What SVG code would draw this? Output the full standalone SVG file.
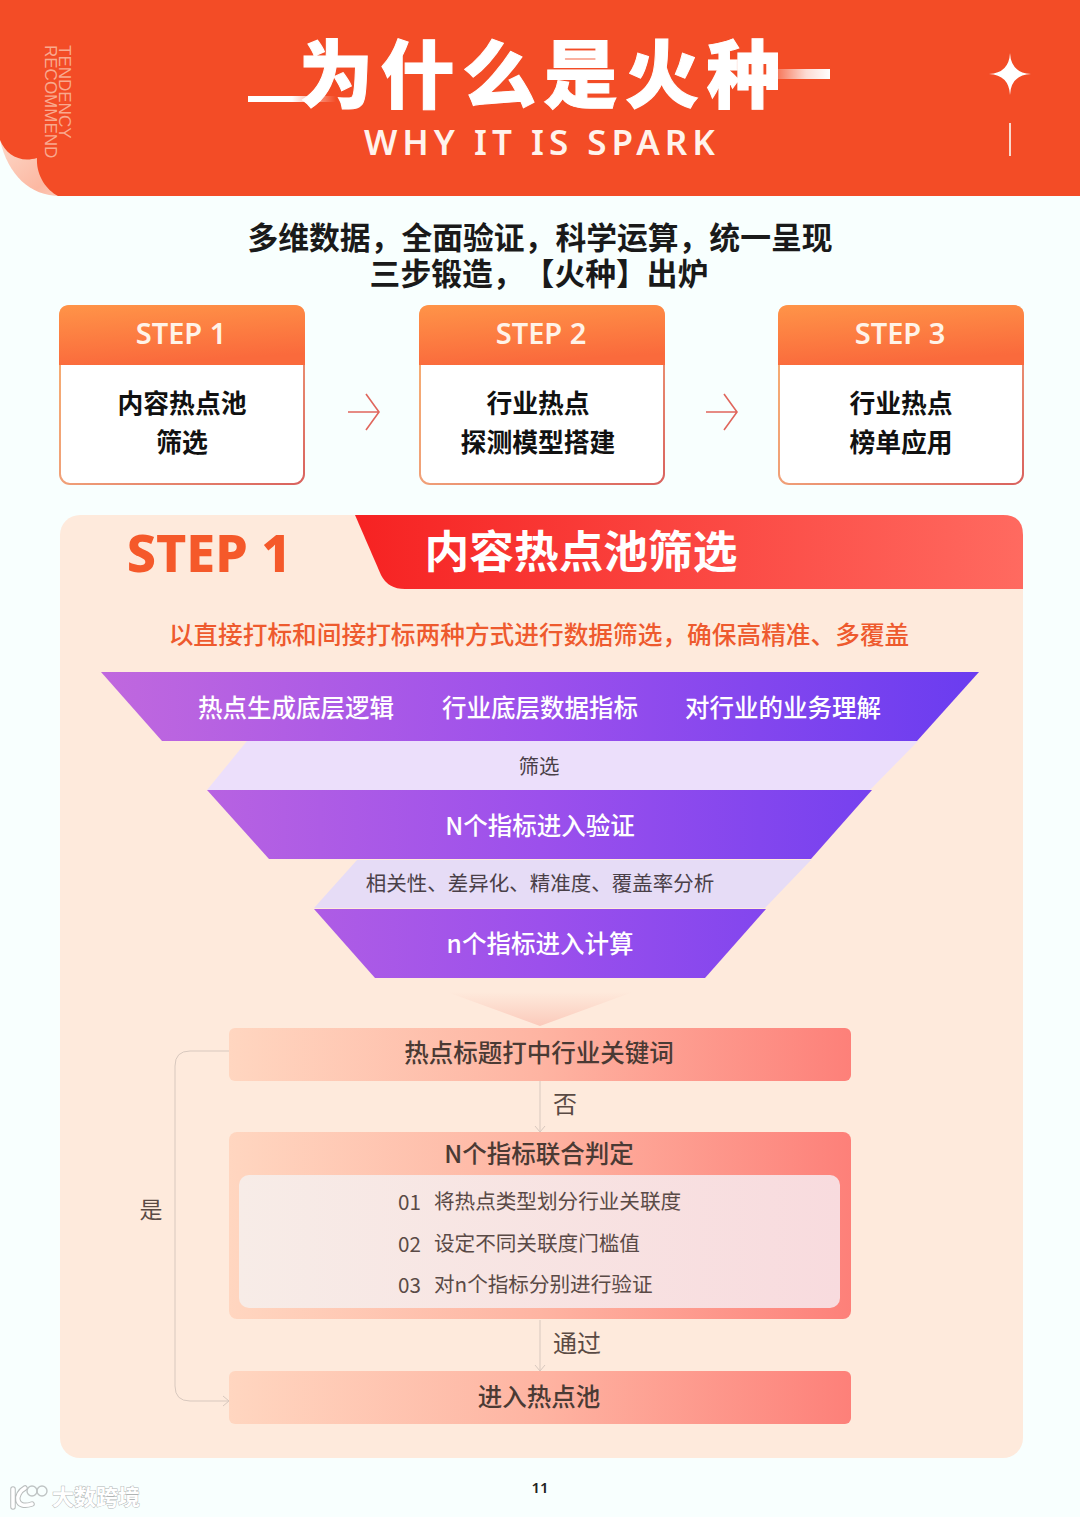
<svg xmlns="http://www.w3.org/2000/svg" width="1080" height="1517" viewBox="0 0 1080 1517">
<defs>
<linearGradient id="fold" x1="0" y1="0" x2="1" y2="1"><stop offset="0" stop-color="#fcd8c8"/><stop offset="0.7" stop-color="#fcb8a2"/><stop offset="1" stop-color="#fcd0c0"/></linearGradient>
<linearGradient id="lineL" x1="0" x2="1" y1="0" y2="0"><stop offset="0" stop-color="#fff"/><stop offset="0.5" stop-color="#fff"/><stop offset="1" stop-color="#fff" stop-opacity="0"/></linearGradient>
<linearGradient id="lineR" x1="0" x2="1" y1="0" y2="0"><stop offset="0" stop-color="#fff" stop-opacity="0.1"/><stop offset="0.6" stop-color="#fff" stop-opacity="0.8"/><stop offset="1" stop-color="#fff"/></linearGradient>
<linearGradient id="head" x1="0" x2="0.25" y1="0" y2="1"><stop offset="0" stop-color="#ff9448"/><stop offset="1" stop-color="#fa6a3c"/></linearGradient>
<linearGradient id="cardStroke" x1="0" x2="1" y1="0" y2="1"><stop offset="0" stop-color="#f8b070"/><stop offset="0.5" stop-color="#f0a078"/><stop offset="1" stop-color="#d9625e"/></linearGradient>
<linearGradient id="banner" x1="0" x2="1" y1="0" y2="0"><stop offset="0" stop-color="#f62222"/><stop offset="1" stop-color="#ff6a60"/></linearGradient>
<linearGradient id="purple" gradientUnits="userSpaceOnUse" x1="101" x2="979" y1="0" y2="0"><stop offset="0" stop-color="#c068de"/><stop offset="0.5" stop-color="#9c50ec"/><stop offset="1" stop-color="#6a3cf0"/></linearGradient>
<linearGradient id="peach" x1="0" x2="1" y1="0" y2="0"><stop offset="0" stop-color="#ffd6c0"/><stop offset="0.5" stop-color="#feb4a2"/><stop offset="1" stop-color="#fd8079"/></linearGradient>
<linearGradient id="inner" x1="0" x2="1" y1="0" y2="0"><stop offset="0" stop-color="#f7ece7"/><stop offset="1" stop-color="#f8dbde"/></linearGradient>
<linearGradient id="tri" x1="0" x2="0" y1="0" y2="1"><stop offset="0" stop-color="#feeadc"/><stop offset="1" stop-color="#fbcabb"/></linearGradient>
<marker id="ah" markerWidth="14" markerHeight="14" refX="10" refY="7" orient="auto" markerUnits="userSpaceOnUse"><path d="M4 2L10 7L4 12" fill="none" stroke="#d8c8be" stroke-width="1"/></marker>
</defs>
<style>
text{font-family:"Noto Sans CJK SC","Noto Sans",sans-serif;text-anchor:middle;text-spacing-trim:space-all}
.en{font-family:"Noto Sans","Noto Sans CJK SC",sans-serif}
.ar2{font-family:"Liberation Sans",sans-serif;text-anchor:start}
.b{font-weight:700}.m{font-weight:500}
.card{fill:#fff;stroke:url(#cardStroke);stroke-width:2}
.hd{fill:url(#head)}
.st{font-size:29px;fill:#fff3e8;font-weight:600}
.ct{font-size:25.8px;font-weight:700;fill:#111}
.w{fill:#fff;font-size:24.5px;font-weight:500}
.ln{fill:#4a4048;font-size:20.5px}
.bar{fill:url(#peach)}
.bt{font-size:24.5px;font-weight:500;fill:#4a3a34}
.it{font-size:20.6px;fill:#5a4a46;text-anchor:start}
.conn{fill:none;stroke:#d8c8be;stroke-width:1;marker-end:url(#ah)}
.ar{fill:none;stroke:#e0665c;stroke-width:1.6}
.lb{font-size:24px;fill:#5a4a44}
</style>
<rect width="1080" height="1517" fill="#f8fffe"/>
<g id="header">
<path d="M0 140C8 175 30 196 60 196L70 180L40 150Z" fill="url(#fold)"/>
<path d="M0 0H1080V196H58C46 190 36 175 37 158C20 163 6 155 0 140Z" fill="#f34c26"/>
<text class="ar2" transform="translate(59 45) rotate(90)" font-size="17" fill="#f9a98f">TENDENCY</text>
<text class="ar2" transform="translate(45 45) rotate(90)" font-size="17" fill="#f9a98f">RECOMMEND</text>
<rect x="248" y="96" width="88" height="6" fill="url(#lineL)"/>
<text x="543.5" y="102" class="b" font-size="74" fill="#fff" stroke="#fff" stroke-width="1" letter-spacing="7.5" style="font-weight:900">为什么是火种</text>
<rect x="770" y="69" width="60" height="10" fill="url(#lineR)"/>
<text x="542" y="155" class="en" font-size="35" font-weight="600" fill="#fff3ec" letter-spacing="5">WHY IT IS SPARK</text>
<path d="M1010 53Q1011 73 1031 74Q1011 75 1010 95Q1009 75 989 74Q1009 73 1010 53Z" fill="#fff"/>
<rect x="1009" y="123" width="2" height="33" fill="#f9d8cc"/>
</g>
<g id="intro">
<text x="540" y="249" class="b" font-size="30.8" fill="#1a1a1a">多维数据，全面验证，科学运算，统一呈现</text>
<text x="539" y="285" class="b" font-size="30.8" fill="#1a1a1a">三步锻造，【火种】出炉</text>
</g>
<g id="step1">
<rect class="card" x="60" y="306" width="244" height="178" rx="10"/>
<path class="hd" d="M70 305H294Q305 305 305 316V365H59V316Q59 305 70 305Z"/>
<text x="181" y="344" class="st en">STEP 1</text>
<text x="182" y="413" class="ct">内容热点池</text>
<text x="182" y="452" class="ct">筛选</text>
</g>
<g id="step2">
<rect class="card" x="420" y="306" width="244" height="178" rx="10"/>
<path class="hd" d="M430 305H654Q665 305 665 316V365H419V316Q419 305 430 305Z"/>
<text x="541" y="344" class="st en">STEP 2</text>
<text x="538" y="413" class="ct">行业热点</text>
<text x="538" y="452" class="ct">探测模型搭建</text>
</g>
<g id="step3">
<rect class="card" x="779" y="306" width="244" height="178" rx="10"/>
<path class="hd" d="M789 305H1013Q1024 305 1024 316V365H778V316Q778 305 789 305Z"/>
<text x="900" y="344" class="st en">STEP 3</text>
<text x="901" y="413" class="ct">行业热点</text>
<text x="901" y="452" class="ct">榜单应用</text>
</g>
<g id="panel">
<rect x="60" y="515" width="963" height="943" rx="20" fill="#feeadc"/>
<path d="M355 515H1003Q1023 515 1023 535V589H405Q388 589 381 575Z" fill="url(#banner)"/>
<text x="209" y="572" class="en" font-weight="800" font-size="52" fill="#f5592a">STEP 1</text>
<text x="581" y="568" class="b" font-size="44.7" fill="#fff">内容热点池筛选</text>
<text x="539" y="644" class="m" font-size="24.7" fill="#ee5a2e">以直接打标和间接打标两种方式进行数据筛选，确保高精准、多覆盖</text>
</g>
<g id="funnel">
<path d="M247 741H918L870 790H207Z" fill="#ecdffb"/>
<path d="M357 860H811L765 908H314Z" fill="#e6dcf6"/>
<path d="M101 672H979L917 741H162Z" fill="url(#purple)"/>
<path d="M207 790H872L811 859H269Z" fill="url(#purple)"/>
<path d="M314 909H766L705 978H375Z" fill="url(#purple)"/>
<text x="296" y="717" class="w">热点生成底层逻辑</text>
<text x="540" y="717" class="w">行业底层数据指标</text>
<text x="783" y="717" class="w">对行业的业务理解</text>
<text x="539" y="774" class="ln">筛选</text>
<text x="540" y="835" class="w">N个指标进入验证</text>
<text x="540" y="891" class="ln">相关性、差异化、精准度、覆盖率分析</text>
<text x="540" y="953" class="w">n个指标进入计算</text>
<path d="M447 992H633L540 1026Z" fill="url(#tri)"/>
</g>
<g id="node-keyword">
<rect class="bar" x="229" y="1028" width="622" height="53" rx="6"/>
<text x="539" y="1062" class="bt">热点标题打中行业关键词</text>
</g>
<g id="node-judge">
<rect class="bar" x="229" y="1132" width="622" height="187" rx="8"/>
<text x="539" y="1163" class="bt">N个指标联合判定</text>
<rect x="239" y="1175" width="601" height="133" rx="10" fill="url(#inner)"/>
<text x="398" y="1210" class="it">01</text><text x="434" y="1209" class="it">将热点类型划分行业关联度</text>
<text x="398" y="1252" class="it">02</text><text x="434" y="1251" class="it">设定不同关联度门槛值</text>
<text x="398" y="1293" class="it">03</text><text x="434" y="1292" class="it">对n个指标分别进行验证</text>
</g>
<g id="node-pool">
<rect class="bar" x="229" y="1371" width="622" height="53" rx="6"/>
<text x="539" y="1406" class="bt">进入热点池</text>
</g>
<g id="connectors">
<path class="ar" d="M348 412H379M366 394L379 412L366 430"/>
<path class="ar" d="M706 412H737M724 394L737 412L724 430"/>
<path class="conn" d="M229 1051H190Q175 1051 175 1066V1386Q175 1401 190 1401H229"/>
<path class="conn" d="M540 1081V1132"/>
<path class="conn" d="M540 1320V1371"/>
</g>
<g id="labels">
<text x="565" y="1113" class="lb">否</text>
<text x="577" y="1352" class="lb">通过</text>
<text x="151" y="1218" class="lb" style="font-size:23px">是</text>
<text x="540" y="1493" class="en" font-weight="600" font-size="15" fill="#222">11</text>
</g>
<g id="watermark">
<path d="M13 1489V1507M25 1488C14 1494 15 1510 32 1504" fill="none" stroke="#b8bcbc" stroke-width="5.5" stroke-linecap="round"/>
<path d="M13 1489V1507M25 1488C14 1494 15 1510 32 1504" fill="none" stroke="#fff" stroke-width="3.5" stroke-linecap="round"/>
<circle cx="32" cy="1491" r="5" fill="none" stroke="#bfc4c4" stroke-width="1.4"/>
<circle cx="42" cy="1491" r="5" fill="none" stroke="#bfc4c4" stroke-width="1.4"/>
<text x="96" y="1505" font-size="22" fill="#fff" stroke="#b0b4b4" stroke-width="0.9" style="font-weight:700;paint-order:stroke">大数跨境</text>
</g>
</svg>
